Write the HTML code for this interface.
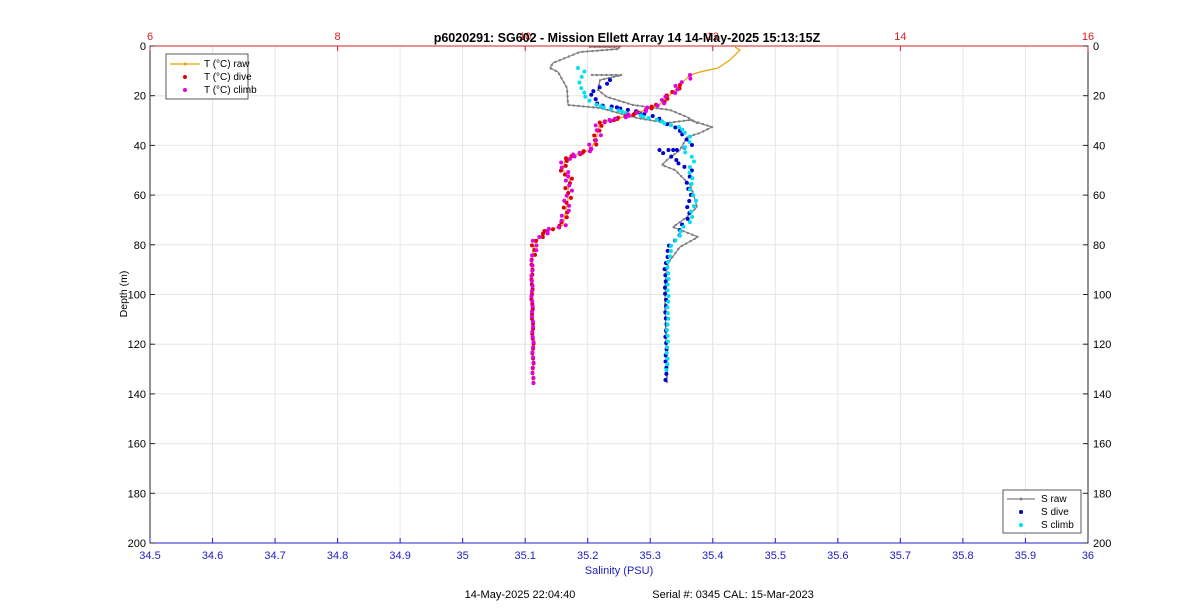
<!DOCTYPE html>
<html><head><meta charset="utf-8"><style>
body{margin:0;background:#fff;}
svg{display:block;font-family:"Liberation Sans",sans-serif;}
</style></head><body>
<svg id="s" width="1200" height="611" viewBox="0 0 1200 611" xmlns="http://www.w3.org/2000/svg">
<rect width="1200" height="611" fill="#fff"/>
<g id="grid" stroke="#e6e6e6" stroke-width="1"></g>
<g id="data"></g>
<rect x="150" y="46" width="938" height="497" fill="none" stroke="#262626" stroke-width="1"/>
<line x1="150" y1="46" x2="1088" y2="46" stroke="#d62020"/>
<line x1="150" y1="543" x2="1088" y2="543" stroke="#2020d0"/>
<g id="ticks" font-size="11"></g>
<text x="627" y="42" text-anchor="middle" font-size="12.5" font-weight="bold">p6020291: SG602 - Mission Ellett Array 14 14-May-2025 15:13:15Z</text>
<text x="619" y="574" text-anchor="middle" font-size="11" fill="#2020c0">Salinity (PSU)</text>
<text transform="translate(127,294) rotate(-90)" text-anchor="middle" font-size="10.5">Depth (m)</text>
<text x="520" y="598" text-anchor="middle" font-size="11">14-May-2025 22:04:40</text>
<text x="733" y="598" text-anchor="middle" font-size="11">Serial #: 0345  CAL: 15-Mar-2023</text>
<g font-size="10">
<rect x="166" y="54" width="82" height="45" fill="#fff" stroke="#333" stroke-width="0.8"/>
<line x1="170" y1="64" x2="200" y2="64" stroke="#e8a000" stroke-width="1.2"/><circle cx="185" cy="64" r="1.5" fill="#e8a000"/>
<text x="204" y="67">T (°C) raw</text>
<circle cx="185" cy="77" r="2" fill="#e00000"/><text x="204" y="80">T (°C) dive</text>
<circle cx="185" cy="90" r="2" fill="#e000e0"/><text x="204" y="93">T (°C) climb</text>
<rect x="1003" y="490" width="78" height="43" fill="#fff" stroke="#333" stroke-width="0.8"/>
<line x1="1007" y1="499" x2="1035" y2="499" stroke="#808080" stroke-width="1.2"/><circle cx="1021" cy="499" r="1.5" fill="#808080"/>
<text x="1041" y="502">S raw</text>
<circle cx="1021" cy="512" r="2" fill="#0000d0"/><text x="1041" y="515">S dive</text>
<circle cx="1021" cy="525" r="2" fill="#00e0f0"/><text x="1041" y="528">S climb</text>
</g>
</svg>
<script>
const NS="http://www.w3.org/2000/svg";
function el(p,t,a,txt){const e=document.createElementNS(NS,t);for(const k in a)e.setAttribute(k,a[k]);if(txt!==undefined)e.textContent=txt;p.appendChild(e);return e;}
const g=document.getElementById('grid'),tk=document.getElementById('ticks'),d=document.getElementById('data');
for(let i=0;i<=15;i++){const x=150+i*62.53;el(g,'line',{x1:x,y1:46,x2:x,y2:543});
 el(tk,'line',{x1:x,y1:543,x2:x,y2:538,stroke:'#2020d0'});
 const v=(34.5+i*0.1);el(tk,'text',{x:x,y:559,'text-anchor':'middle',fill:'#2020c0'},i==5?'35':i==15?'36':v.toFixed(1));}
for(let i=0;i<=5;i++){const x=150+i*187.6;el(g,'line',{x1:x,y1:46,x2:x,y2:543});
 el(tk,'line',{x1:x,y1:46,x2:x,y2:51,stroke:'#d62020'});
 el(tk,'text',{x:x,y:40,'text-anchor':'middle',fill:'#d62020'},String(6+2*i));}
for(let i=0;i<=10;i++){const y=46+i*49.7;el(g,'line',{x1:150,y1:y,x2:1088,y2:y});
 el(tk,'line',{x1:150,y1:y,x2:155,y2:y,stroke:'#262626'});el(tk,'line',{x1:1088,y1:y,x2:1083,y2:y,stroke:'#262626'});
 el(tk,'text',{x:146,y:y+4,'text-anchor':'end'},String(i*20));el(tk,'text',{x:1093,y:y+4},String(i*20));}
function interp(pts,n){const o=[];let L=[0];for(let i=1;i<pts.length;i++)L.push(L[i-1]+Math.hypot(pts[i][0]-pts[i-1][0],pts[i][1]-pts[i-1][1]));const T=L[L.length-1];
 for(let k=0;k<n;k++){const s=T*k/(n-1);let i=1;while(i<L.length-1&&L[i]<s)i++;const f=(s-L[i-1])/((L[i]-L[i-1])||1);o.push([pts[i-1][0]+f*(pts[i][0]-pts[i-1][0]),pts[i-1][1]+f*(pts[i][1]-pts[i-1][1])]);}return o;}
function line(pts,c){el(d,'polyline',{points:pts.map(p=>p.join(',')).join(' '),fill:'none',stroke:c,'stroke-width':1.2});interp(pts,Math.round(pts.length*4)).forEach(p=>el(d,'circle',{cx:p[0],cy:p[1],r:1.2,fill:c}));}
function dots(pts,n,c,dx){interp(pts,n).forEach((p,i)=>{const j=p[1]>255?0.6:dx;el(d,'circle',{cx:p[0]+Math.sin(i*1.7)*j,cy:p[1],r:2,fill:c});});}
const SR=[[590,47],[620,47],[618,49],[580,52],[575,54],[553,63],[550,68],[558,72],[567,88],[568,105],[600,108],[637,118],[667,123],[690,120],[712,127],[700,133],[687,137],[680,150],[667,160],[662,165],[675,170],[690,185],[693,193],[697,207],[687,217],[673,227],[698,237],[680,247],[668,263],[666,272],[665,300],[666,340],[667,382]];
const SR2=[[592,75],[622,75],[600,80],[598,90],[607,97],[633,105],[670,110],[687,117],[697,123]];
line(SR,'#808080');line(SR2,'#808080');
const SD=[[610,80],[590,95],[600,105],[620,108],[650,115],[670,125],[685,135],[690,145],[680,150],[660,150],[675,160],[690,170],[688,190],[690,200],[688,215],[680,232],[668,250],[665,270],[666,320],[666,380]];
dots(SD,70,'#0000d0',2);
const SC=[[578,68],[583,72],[580,90],[595,105],[615,110],[650,118],[680,128],[690,135],[685,150],[693,160],[690,175],[692,190],[695,205],[690,220],[675,240],[668,260],[668,300],[667,370]];
dots(SC,70,'#00e0f0',2);
const TR=[[735,47],[740,50],[730,60],[718,68],[700,72],[690,75],[680,85],[670,95],[660,104],[640,112],[620,118],[600,123],[598,130],[596,140],[590,150],[575,155],[565,160],[563,170],[570,180],[568,190],[568,200],[566,210],[563,225],[555,228],[545,232],[537,240],[533,250],[532,260],[532,300],[533,340],[533,383]];
el(d,'polyline',{points:TR.map(p=>p.join(',')).join(' '),fill:'none',stroke:'#e8a000','stroke-width':1.2});
dots(TR.slice(6),80,'#e00000',3);dots(TR.slice(5),80,'#e000e0',4);
</script>
</body></html>
